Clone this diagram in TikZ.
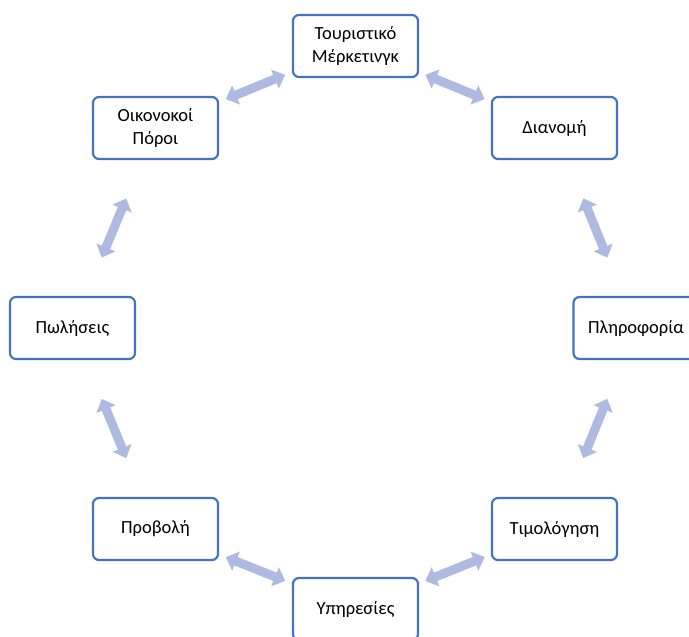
\documentclass[tikz,border=0pt]{standalone}
\usepackage{fontspec}
\setmainfont{Carlito}
\usetikzlibrary{arrows.meta,calc}
\definecolor{boxc}{RGB}{68,114,196}
\definecolor{arrowc}{RGB}{174,186,224}
\tikzset{
  box/.style={rectangle, rounded corners=6pt, draw=boxc, line width=2.2pt, fill=white,
    minimum width=125pt, minimum height=62pt, inner sep=0pt, align=center,
    font=\fontsize{18.5}{23}\selectfont},
  dblarrow/.style={draw=arrowc, line width=9pt,
    {Triangle[length=11pt,width=20pt]}-{Triangle[length=11pt,width=20pt]}}
}
\begin{document}
\begin{tikzpicture}[x=1pt,y=-1pt]
\useasboundingbox (0,0) rectangle (689,637);
\node[box] (top)   at (355.5,46)  {Τουριστικό\\Μέρκετινγκ};
\node[box] (dist)  at (554.5,128) {Διανομή};
\node[box] (info)  at (636,328)   {Πληροφορία};
\node[box] (price) at (554.5,529) {Τιμολόγηση};
\node[box] (serv)  at (355.5,609) {Υπηρεσίες};
\node[box] (prom)  at (155.5,529) {Προβολή};
\node[box] (sales) at (72.5,328)  {Πωλήσεις};
\node[box] (fin)   at (155.5,128) {Οικονοκοί\\Πόροι};
\foreach \a/\b in {top/dist, dist/info, info/price, price/serv, serv/prom, prom/sales, sales/fin, fin/top}{
  \path (\a.center) -- (\b.center) coordinate[midway] (m);
  \draw[dblarrow] ($(m)!32pt!(\a.center)$) -- ($(m)!32pt!(\b.center)$);
}
\end{tikzpicture}
\end{document}
